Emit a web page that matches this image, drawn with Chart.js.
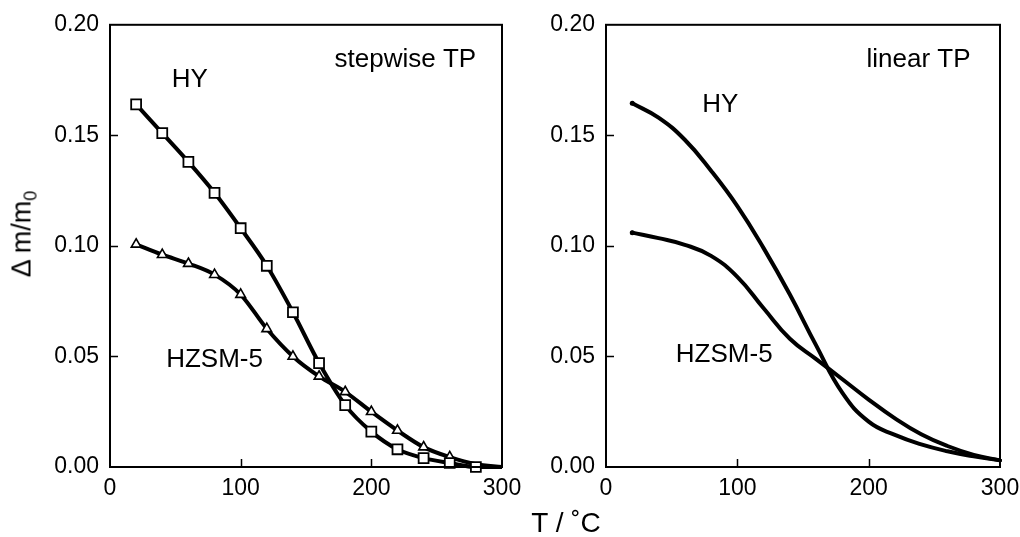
<!DOCTYPE html>
<html>
<head>
<meta charset="utf-8">
<script src="https://cdn.jsdelivr.net/npm/chart.js@4"></script>
<style>
  body { margin: 0; background: #fff; overflow: hidden; }
  #wrap { position: relative; width: 1020px; height: 537px; overflow: hidden; font-family: "Liberation Sans", Arial, sans-serif; }
  canvas { position: absolute; left: 0; top: 0; }
  .title { position: absolute; color: #000; white-space: nowrap; }
  #xTitle { left: 566px; top: 523px; font-size: 28px; transform: translate(-50%, -50%); }
  #yTitle { left: 24px; top: 234px; font-size: 27px; transform: translate(-50%, -50%) rotate(-90deg); }
  #yTitle sub { font-size: 18px; vertical-align: -6px; }
</style>
</head>
<body>
<div id="wrap">
  <canvas id="stepChart" width="1020" height="537"></canvas>
  <canvas id="linearChart" width="1040" height="537"></canvas>
  <div class="title" id="xTitle">T / ˚C</div>
  <div class="title" id="yTitle">Δ m/m<sub>0</sub></div>
</div>
<script>
// temperatures (°C)
const tempStep = [20, 40, 60, 80, 100, 120, 140, 160, 180, 200, 220, 240, 260, 280, 300];
const tempLinear = [20, 40, 60, 80, 100, 120, 140, 160, 180, 200, 220, 240, 260, 280, 300];

// stepwise TP (left panel)
const hyStep = [0.164, 0.151, 0.138, 0.124, 0.108, 0.091, 0.070, 0.047, 0.028, 0.016, 0.008, 0.004, 0.0018, 0.0, 0.0];
const hzsmStep = [0.1007, 0.096, 0.092, 0.087, 0.078, 0.0625, 0.050, 0.041, 0.034, 0.025, 0.0165, 0.009, 0.0045, 0.0013, 0.0];

// linear TP (right panel)
const hyLinear = [0.1645, 0.158, 0.148, 0.134, 0.118, 0.099, 0.078, 0.055, 0.0335, 0.0205, 0.0145, 0.0102, 0.0071, 0.0048, 0.003];
const hzsmLinear = [0.106, 0.1035, 0.1005, 0.0955, 0.086, 0.0718, 0.058, 0.0488, 0.0397, 0.0305, 0.022, 0.0148, 0.0095, 0.0055, 0.003];

const xTicks = [0, 100, 200, 300];
const yTicks = [0, 0.05, 0.10, 0.15, 0.20];

const FONT = '"Liberation Sans", Arial, sans-serif';

function toPoints(xs, ys) {
  return xs.map((x, i) => ({ x: x, y: ys[i] }));
}

// box around the plot, inward ticks, and the text notes
function framePlugin(notes) {
  return {
    id: 'frame',
    afterDraw(chart) {
      const { ctx, chartArea: a } = chart;
      const x = chart.scales.x, y = chart.scales.y;
      ctx.save();
      ctx.strokeStyle = '#000';
      ctx.lineWidth = 2;
      ctx.strokeRect(a.left, a.top, a.right - a.left, a.bottom - a.top);
      ctx.lineWidth = 1.5;
      ctx.beginPath();
      xTicks.slice(1, -1).forEach(v => {
        const px = Math.round(x.getPixelForValue(v)) + 0.5;
        ctx.moveTo(px, a.bottom);
        ctx.lineTo(px, a.bottom - 8);
      });
      yTicks.slice(1, -1).forEach(v => {
        const py = Math.round(y.getPixelForValue(v)) + 0.5;
        ctx.moveTo(a.left, py);
        ctx.lineTo(a.left + 8, py);
      });
      ctx.stroke();
      ctx.fillStyle = '#000';
      ctx.font = '26px ' + FONT;
      ctx.textAlign = 'center';
      ctx.textBaseline = 'middle';
      notes.forEach(n => {
        ctx.fillText(n.text, x.getPixelForValue(n.x), y.getPixelForValue(n.y));
      });
      ctx.restore();
    }
  };
}

function makeOptions(yWidth, padRight) {
  return {
    responsive: false,
    animation: false,
    layout: { padding: { top: 22, right: padRight, left: 0, bottom: 0 } },
    plugins: { legend: { display: false }, tooltip: { enabled: false } },
    scales: {
      x: {
        type: 'linear',
        min: 0,
        max: 300,
        afterBuildTicks: s => { s.ticks = xTicks.map(v => ({ value: v })); },
        afterFit: s => { s.height = 70; },
        grid: { display: false, drawTicks: false },
        border: { display: false },
        ticks: { padding: 8, color: '#000', font: { family: FONT, size: 23 }, maxRotation: 0 }
      },
      y: {
        min: 0,
        max: 0.2,
        afterBuildTicks: s => { s.ticks = yTicks.map(v => ({ value: v })); },
        afterFit: s => { s.width = yWidth; },
        grid: { display: false, drawTicks: false },
        border: { display: false },
        ticks: {
          padding: 11,
          color: '#000',
          font: { family: FONT, size: 23 },
          callback: v => v.toFixed(2)
        }
      }
    }
  };
}

new Chart(document.getElementById('stepChart'), {
  type: 'line',
  data: {
    datasets: [
      {
        label: 'HY',
        data: toPoints(tempStep, hyStep),
        borderColor: '#000',
        borderWidth: 4,
        cubicInterpolationMode: 'monotone',
        pointStyle: 'rect',
        pointRadius: c => (c.dataIndex === hyStep.length - 1 ? 0 : 7),
        pointBackgroundColor: '#fff',
        pointBorderColor: '#000',
        pointBorderWidth: 1.8,
        clip: false
      },
      {
        label: 'HZSM-5',
        data: toPoints(tempStep, hzsmStep),
        borderColor: '#000',
        borderWidth: 4,
        cubicInterpolationMode: 'monotone',
        pointStyle: 'triangle',
        pointRadius: c => (c.dataIndex >= hzsmStep.length - 2 ? 0 : 5.6),
        pointBackgroundColor: '#fff',
        pointBorderColor: '#000',
        pointBorderWidth: 1.6,
        clip: false
      }
    ]
  },
  options: makeOptions(110, 518),
  plugins: [framePlugin([
    { text: 'HY', x: 61, y: 0.175 },
    { text: 'stepwise TP', x: 226, y: 0.184 },
    { text: 'HZSM-5', x: 80, y: 0.0485 }
  ])]
});

new Chart(document.getElementById('linearChart'), {
  type: 'line',
  data: {
    datasets: [
      {
        label: 'HY',
        data: toPoints(tempLinear, hyLinear),
        borderColor: '#000',
        borderWidth: 4,
        borderCapStyle: 'round',
        tension: 0.45,
        pointRadius: c => (c.dataIndex === 0 ? 2.5 : 0),
        pointBackgroundColor: '#000',
        pointBorderWidth: 0,
        clip: false
      },
      {
        label: 'HZSM-5',
        data: toPoints(tempLinear, hzsmLinear),
        borderColor: '#000',
        borderWidth: 4,
        borderCapStyle: 'round',
        tension: 0.45,
        pointRadius: c => (c.dataIndex === 0 ? 2.5 : 0),
        pointBackgroundColor: '#000',
        pointBorderWidth: 0,
        clip: false
      }
    ]
  },
  options: makeOptions(606, 40),
  plugins: [framePlugin([
    { text: 'HY', x: 87, y: 0.164 },
    { text: 'linear TP', x: 238, y: 0.184 },
    { text: 'HZSM-5', x: 90, y: 0.0508 }
  ])]
});
</script>
</body>
</html>
